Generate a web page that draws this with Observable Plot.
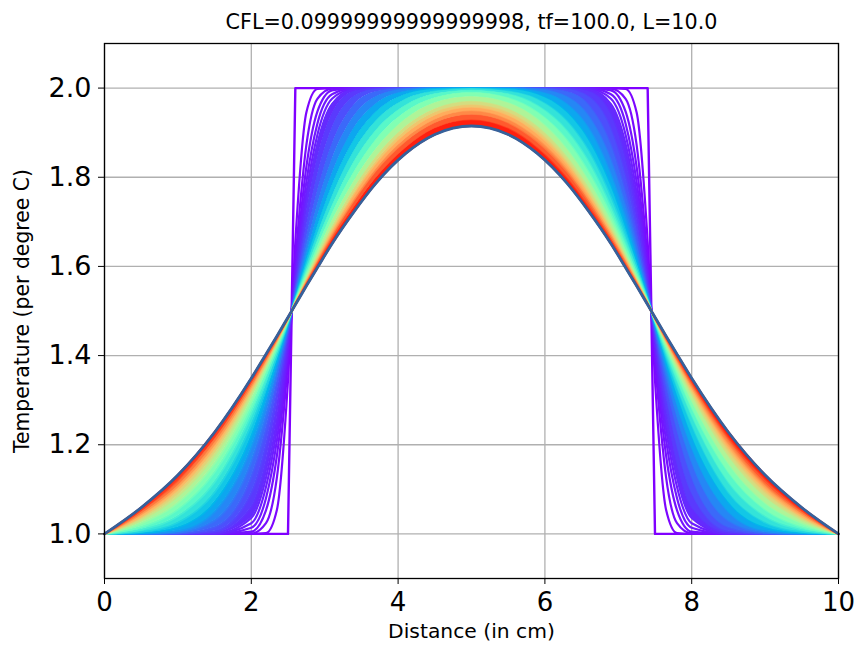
<!DOCTYPE html>
<html>
<head>
<meta charset="utf-8">
<script src="https://cdn.jsdelivr.net/npm/d3@7"></script>
<script src="https://cdn.jsdelivr.net/npm/@observablehq/plot@0.6"></script>
<style>
  html, body { margin: 0; padding: 0; background: white; }
  #chart svg { display: block; }
</style>
</head>
<body>
<div id="chart"></div>
<script>
// ---- data ----
const titleText = "CFL=0.09999999999999998, tf=100.0, L=10.0";
const xLabel = "Distance (in cm)";
const yLabel = "Temperature (per degree C)";
const xTicks = [0, 2, 4, 6, 8, 10];
const yTicks = [1.0, 1.2, 1.4, 1.6, 1.8, 2.0];

// sample positions along the rod (cm)
const xs = [0,0.5,1,1.5,2,2.2,2.35,2.5,2.6,2.75,2.9,3.1,3.4,3.7,4.1,4.5,5,5.5,5.9,6.3,6.6,6.9,7.1,7.25,7.4,7.5,7.65,7.8,8,8.5,9,9.5,10];

// time-step index of each drawn profile (out of nSteps)
const steps = [0,1,2,3,4,5,6,8,11,15,20,26,33,41,50,60,71,83,90,96,103,110,120,130];
const nSteps = 130;

const t000 = [1,1,1,1,1,1,1,1,2,2,2,2,2,2,2,2,2,2,2,2,2,2,2,2,2,1,1,1,1,1,1,1,1];
const t001 = [1,1,1,1,1,1.002,1.055,1.344,1.656,1.945,1.998,2,2,2,2,2,2,2,2,2,2,2,1.998,1.945,1.656,1.344,1.055,1.002,1,1,1,1,1];
const t002 = [1,1,1,1,1.001,1.024,1.128,1.388,1.612,1.872,1.976,1.999,2,2,2,2,2,2,2,2,2,1.999,1.976,1.872,1.612,1.388,1.128,1.024,1.001,1,1,1,1];
const t003 = [1,1,1,1,1.005,1.053,1.177,1.408,1.592,1.823,1.947,1.995,2,2,2,2,2,2,2,2,2,1.995,1.947,1.823,1.592,1.408,1.177,1.053,1.005,1,1,1,1];
const t004 = [1,1,1,1,1.014,1.080,1.211,1.420,1.580,1.789,1.920,1.986,2,2,2,2,2,2,2,2,2,1.986,1.920,1.789,1.580,1.420,1.211,1.080,1.014,1,1,1,1];
const t005 = [1,1,1,1,1.024,1.105,1.236,1.429,1.571,1.764,1.895,1.976,1.999,2,2,2,2,2,2,2,1.999,1.976,1.895,1.764,1.571,1.429,1.236,1.105,1.024,1,1,1,1];
const t006 = [1,1,1,1,1.036,1.126,1.256,1.435,1.565,1.744,1.874,1.964,1.997,2,2,2,2,2,2,2,1.997,1.964,1.874,1.744,1.565,1.435,1.256,1.126,1.036,1,1,1,1];
const t008 = [1,1,1,1.002,1.060,1.161,1.285,1.444,1.556,1.715,1.839,1.940,1.992,1.999,2,2,2,2,2,1.999,1.992,1.940,1.839,1.715,1.556,1.444,1.285,1.161,1.060,1.002,1,1,1];
const t011 = [1,1,1,1.006,1.092,1.199,1.314,1.452,1.548,1.686,1.801,1.908,1.980,1.997,2,2,2,2,2,1.997,1.980,1.908,1.801,1.686,1.548,1.452,1.314,1.199,1.092,1.006,1,1,1];
const t015 = [1,1,1.001,1.015,1.128,1.235,1.339,1.459,1.541,1.661,1.765,1.872,1.961,1.991,1.999,2,2,2,1.999,1.991,1.961,1.872,1.765,1.661,1.541,1.459,1.339,1.235,1.128,1.015,1.001,1,1];
const t020 = [1,1,1.003,1.030,1.162,1.265,1.360,1.464,1.536,1.640,1.735,1.838,1.936,1.980,1.997,2,2,2,1.997,1.980,1.936,1.838,1.735,1.640,1.536,1.464,1.360,1.265,1.162,1.030,1.003,1,1];
const t026 = [1,1.001,1.007,1.050,1.194,1.291,1.377,1.469,1.531,1.623,1.709,1.806,1.909,1.964,1.992,1.999,2,1.999,1.992,1.964,1.909,1.806,1.709,1.623,1.531,1.469,1.377,1.291,1.194,1.050,1.007,1.001,1];
const t033 = [1,1.002,1.015,1.072,1.221,1.313,1.390,1.472,1.528,1.610,1.687,1.779,1.882,1.945,1.985,1.997,1.999,1.997,1.985,1.945,1.882,1.779,1.687,1.610,1.528,1.472,1.390,1.313,1.221,1.072,1.015,1.002,1];
const t041 = [1,1.005,1.026,1.094,1.246,1.331,1.401,1.475,1.525,1.599,1.669,1.754,1.857,1.925,1.974,1.992,1.998,1.992,1.974,1.925,1.857,1.754,1.669,1.599,1.525,1.475,1.401,1.331,1.246,1.094,1.026,1.005,1];
const t050 = [1,1.010,1.040,1.117,1.267,1.346,1.410,1.477,1.523,1.590,1.654,1.733,1.833,1.904,1.960,1.986,1.994,1.986,1.960,1.904,1.833,1.733,1.654,1.590,1.523,1.477,1.410,1.346,1.267,1.117,1.040,1.010,1];
const t060 = [1,1.016,1.055,1.139,1.284,1.359,1.418,1.479,1.521,1.582,1.641,1.716,1.810,1.883,1.945,1.977,1.989,1.977,1.945,1.883,1.810,1.716,1.641,1.582,1.521,1.479,1.418,1.359,1.284,1.139,1.055,1.016,1];
const t071 = [1,1.024,1.070,1.159,1.300,1.369,1.425,1.481,1.519,1.575,1.630,1.700,1.790,1.862,1.929,1.966,1.980,1.966,1.929,1.862,1.790,1.700,1.630,1.575,1.519,1.481,1.425,1.369,1.300,1.159,1.070,1.024,1];
const t083 = [1,1.032,1.085,1.177,1.314,1.379,1.430,1.482,1.518,1.570,1.621,1.686,1.773,1.844,1.912,1.952,1.969,1.952,1.912,1.844,1.773,1.686,1.621,1.570,1.518,1.482,1.430,1.379,1.314,1.177,1.085,1.032,1];
const t090 = [1,1.037,1.094,1.187,1.321,1.384,1.433,1.483,1.517,1.567,1.616,1.679,1.763,1.834,1.903,1.944,1.961,1.944,1.903,1.834,1.763,1.679,1.616,1.567,1.517,1.483,1.433,1.384,1.321,1.187,1.094,1.037,1];
const t096 = [1,1.040,1.101,1.195,1.326,1.387,1.435,1.484,1.516,1.565,1.613,1.674,1.757,1.827,1.895,1.937,1.955,1.937,1.895,1.827,1.757,1.674,1.613,1.565,1.516,1.484,1.435,1.387,1.326,1.195,1.101,1.040,1];
const t103 = [1,1.045,1.108,1.203,1.332,1.391,1.437,1.484,1.516,1.563,1.609,1.668,1.748,1.817,1.885,1.928,1.947,1.928,1.885,1.817,1.748,1.668,1.609,1.563,1.516,1.484,1.437,1.391,1.332,1.203,1.108,1.045,1];
const t110 = [1,1.049,1.114,1.211,1.337,1.394,1.439,1.485,1.515,1.561,1.606,1.663,1.742,1.810,1.877,1.920,1.939,1.920,1.877,1.810,1.742,1.663,1.606,1.561,1.515,1.485,1.439,1.394,1.337,1.211,1.114,1.049,1];
const t120 = [1,1.054,1.124,1.219,1.343,1.399,1.442,1.485,1.515,1.558,1.601,1.657,1.731,1.797,1.864,1.908,1.927,1.908,1.864,1.797,1.731,1.657,1.601,1.558,1.515,1.485,1.442,1.399,1.343,1.219,1.124,1.054,1];
const t130 = [1,1.059,1.132,1.228,1.349,1.403,1.444,1.486,1.514,1.556,1.597,1.651,1.723,1.787,1.853,1.896,1.915,1.896,1.853,1.787,1.723,1.651,1.597,1.556,1.514,1.486,1.444,1.403,1.349,1.228,1.132,1.059,1];

const profiles = [t000,t001,t002,t003,t004,t005,t006,t008,t011,t015,t020,t026,t033,t041,t050,t060,t071,t083,t090,t096,t103,t110,t120,t130];
const finalProfile = t130;

// ---- styling helpers ----
// matplotlib "rainbow" colormap
function rainbow(t) {
  const r = Math.min(1, Math.abs(2 * t - 0.5));
  const g = Math.sin(Math.PI * t);
  const b = Math.cos(Math.PI * t / 2);
  return d3.rgb(r * 255, g * 255, b * 255).formatHex();
}
const FIRST_FILLED = 7; // bands are filled from this profile on (dense region)

const marks = [
  Plot.gridX(xTicks, {stroke: "#b0b0b0", strokeOpacity: 1, strokeWidth: 1.3}),
  Plot.gridY(yTicks, {stroke: "#b0b0b0", strokeOpacity: 1, strokeWidth: 1.3})
];

// initial profile
marks.push(Plot.line(xs.map((x, j) => ({x, y: t000[j]})), {
  x: "x", y: "y", stroke: rainbow(0), strokeWidth: 2.4, curve: "linear"
}));

for (let i = 1; i < profiles.length; i++) {
  const cur = profiles[i], prev = profiles[i - 1];
  if (i >= FIRST_FILLED) {
    const mid = (steps[i] + steps[i - 1]) / 2 / nSteps;
    marks.push(Plot.areaY(xs.map((x, j) => ({x, y1: prev[j], y2: cur[j]})), {
      x: "x", y1: "y1", y2: "y2", fill: rainbow(mid), curve: "monotone-x"
    }));
  }
  marks.push(Plot.line(xs.map((x, j) => ({x, y: cur[j]})), {
    x: "x", y: "y", stroke: rainbow(steps[i] / nSteps), strokeWidth: 2.2, curve: "monotone-x"
  }));
}

// final state
marks.push(Plot.line(xs.map((x, j) => ({x, y: finalProfile[j]})), {
  x: "x", y: "y", stroke: "#34629c", strokeWidth: 2.8, curve: "monotone-x"
}));

marks.push(
  Plot.frame({stroke: "black", strokeWidth: 1.3}),
  Plot.axisX(xTicks, {tickSize: 6, tickPadding: 8, fontSize: 26, label: null, tickFormat: d => String(d)}),
  Plot.axisY(yTicks, {tickSize: 6, tickPadding: 7, fontSize: 27, label: null, tickFormat: d3.format(".1f")}),
  Plot.text([titleText], {text: d => d, frameAnchor: "top", dy: -29, fontSize: 20.7}),
  Plot.text([xLabel], {text: d => d, frameAnchor: "bottom", dy: 59, fontSize: 20.3}),
  Plot.text([yLabel], {text: d => d, frameAnchor: "left", textAnchor: "middle", dx: -82, rotate: -90, fontSize: 20.4})
);

const chart = Plot.plot({
  width: 859,
  height: 646,
  marginLeft: 104,
  marginRight: 21,
  marginTop: 43,
  marginBottom: 68,
  x: {domain: [0, 10]},
  y: {domain: [0.9, 2.1]},
  style: {fontFamily: "DejaVu Sans", background: "white", color: "black"},
  marks
});
document.getElementById("chart").appendChild(chart);
</script>
</body>
</html>
